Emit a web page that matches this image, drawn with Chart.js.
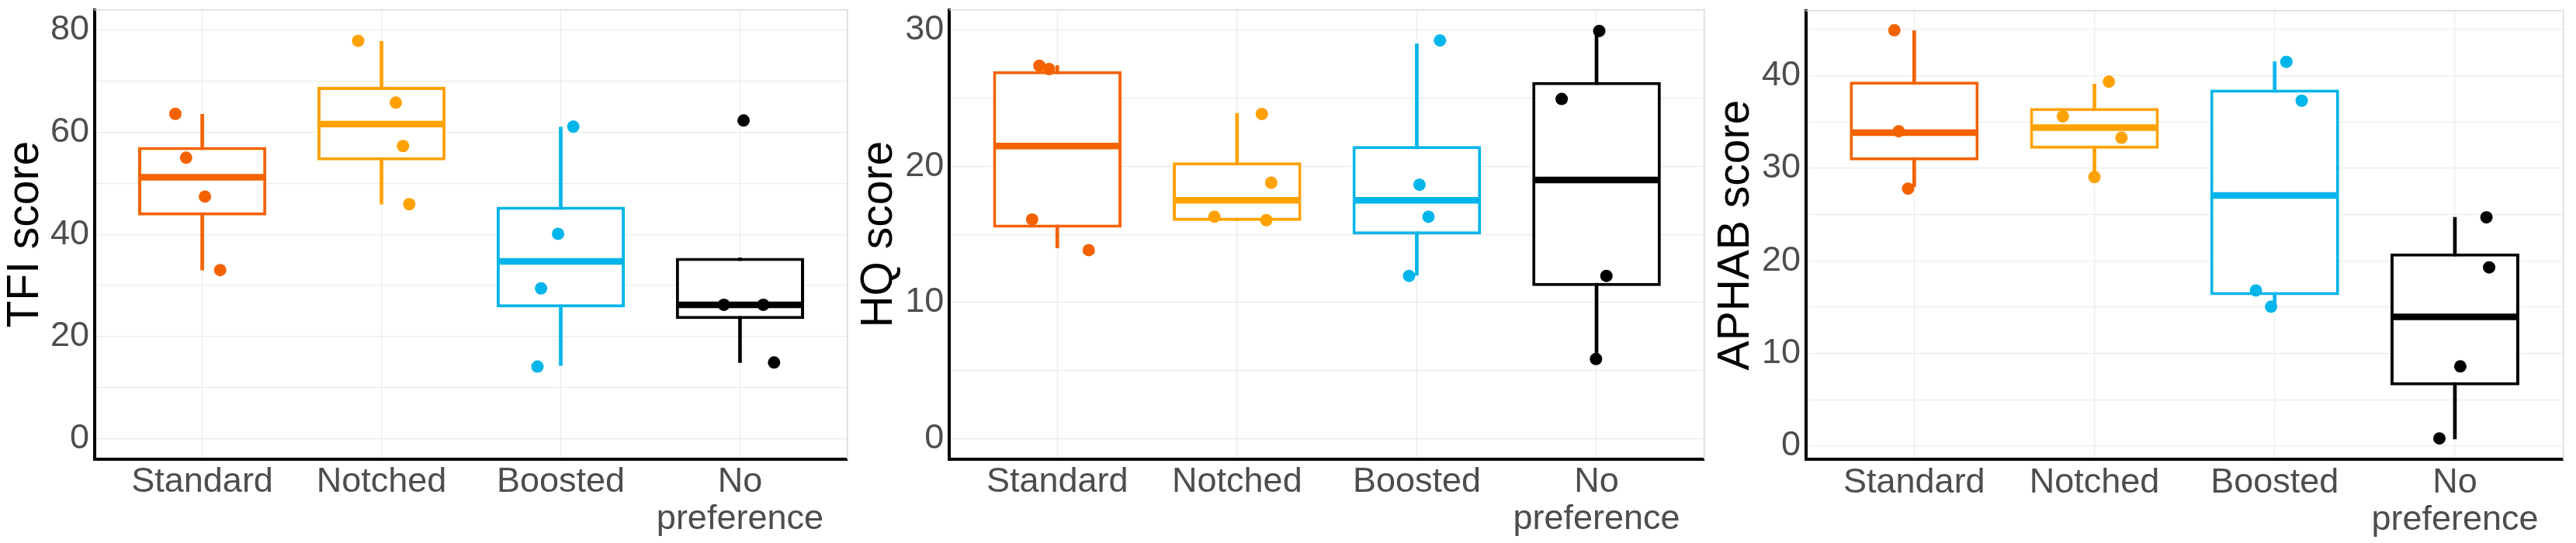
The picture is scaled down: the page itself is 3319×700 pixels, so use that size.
<!DOCTYPE html>
<html>
<head>
<meta charset="utf-8">
<script src="https://cdn.jsdelivr.net/npm/chart.js@4.4.1/dist/chart.umd.min.js"></script>
<style>
html, body { margin: 0; padding: 0; background: #fff; }
body { width: 3319px; height: 700px; position: relative; overflow: hidden; }
.panel { position: absolute; top: 0; height: 700px; }
</style>
</head>
<body>
<div class="panel" style="left:0;width:1100px"><canvas id="tfi"></canvas></div>
<div class="panel" style="left:1100px;width:1104px"><canvas id="hq"></canvas></div>
<div class="panel" style="left:2204px;width:1115px"><canvas id="aphab"></canvas></div>
<script>
// categories and colours
var categories = ['Standard', 'Notched', 'Boosted', 'No preference'];
var categoryLabels = ['Standard', 'Notched', 'Boosted', ['No', 'preference']];
var colors = ['#F46200', '#FFA100', '#00B5EA', '#000000'];

// TFI score
var tfiLow    = [33.0, 45.9, 14.3, 14.9];
var tfiQ1     = [43.7, 54.5, 25.7, 23.4];
var tfiMedian = [51.2, 61.6, 34.7, 26.2];
var tfiQ3     = [57.1, 68.9, 45.4, 35.4];
var tfiHigh   = [63.5, 77.8, 61.0, 35.4];
var tfiPoints = [[63.6, 55.0, 47.4, 33.0], [77.9, 65.8, 57.3, 45.9], [61.1, 40.1, 29.4, 14.1], [62.3, 26.2, 26.2, 14.9]];
var tfiJitter = [[-0.15, -0.09, 0.015, 0.10], [-0.13, 0.08, 0.12, 0.155], [0.07, -0.015, -0.11, -0.13], [0.02, -0.09, 0.13, 0.19]];
var tfiMajor = [0, 20, 40, 60, 80];
var tfiMinor = [10, 30, 50, 70];

// HQ score
var hqLow    = [14.0, 16.0, 12.0, 5.8];
var hqQ1     = [15.5, 16.0, 15.0, 11.2];
var hqMedian = [21.5, 17.5, 17.5, 19.0];
var hqQ3     = [27.0, 20.3, 21.5, 26.2];
var hqHigh   = [27.4, 23.9, 29.0, 29.9];
var hqPoints = [[27.4, 27.15, 16.1, 13.85], [23.85, 18.8, 16.3, 16.05], [29.25, 18.65, 16.3, 11.95], [29.95, 24.95, 11.95, 5.85]];
var hqJitter = [[-0.10, -0.046, -0.14, 0.175], [0.138, 0.19, -0.126, 0.163], [0.129, 0.015, 0.065, -0.043], [0.015, -0.194, 0.055, -0.003]];
var hqMajor = [0, 10, 20, 30];
var hqMinor = [5, 15, 25];

// APHAB score
var aphabLow    = [28.0, 29.1, 15.1, 0.75];
var aphabQ1     = [30.85, 32.1, 16.3, 6.55];
var aphabMedian = [33.85, 34.4, 27.05, 13.95];
var aphabQ3     = [39.35, 36.5, 38.5, 20.8];
var aphabHigh   = [44.85, 39.1, 41.5, 24.7];
var aphabPoints = [[44.9, 34.0, 27.8], [39.35, 35.6, 33.3, 29.05], [41.5, 37.3, 16.8, 15.05], [24.7, 19.3, 8.6, 0.82]];
var aphabJitter = [[-0.11, -0.086, -0.034], [0.08, -0.175, 0.15, 0.0], [0.065, 0.15, -0.104, -0.02], [0.175, 0.19, 0.03, -0.086]];
var aphabMajor = [0, 10, 20, 30, 40];
var aphabMinor = [5, 15, 25, 35, 45];

Chart.defaults.font.family = "'Liberation Sans', Arial, sans-serif";
Chart.defaults.animation = false;

var BOX_WIDTH = 0.715;

function rangeData(lo, hi) {
    return lo.map(function (v, i) { return {x: i + 1, y: [v, hi[i]]}; });
}

function makePanel(id, cfg) {
    var pts = [], ptColors = [];
    cfg.points.forEach(function (vals, i) {
        vals.forEach(function (v, j) {
            pts.push({x: i + 1 + cfg.jitter[i][j], y: v});
            ptColors.push(colors[i]);
        });
    });
    var medians = cfg.median.map(function (v, i) { return {x: i + 1, y: v}; });
    var yTicks = cfg.major.concat(cfg.minor).sort(function (a, b) { return a - b; });

    return new Chart(document.getElementById(id).getContext('2d'), {
        type: 'bar',
        data: {
            datasets: [
                {   // whiskers
                    type: 'bar', data: rangeData(cfg.low, cfg.high),
                    backgroundColor: colors, borderWidth: 0,
                    grouped: false, barThickness: 4, order: 3
                },
                {   // boxes
                    type: 'bar', data: rangeData(cfg.q1, cfg.q3),
                    backgroundColor: '#ffffff', borderColor: colors, borderWidth: 4,
                    borderSkipped: false, grouped: false,
                    categoryPercentage: 1, barPercentage: BOX_WIDTH, order: 2
                },
                {   // medians
                    type: 'scatter', data: medians, pointStyle: 'line',
                    pointBorderColor: colors, pointBackgroundColor: colors, pointBorderWidth: 8.5,
                    pointRadius: function (c) {
                        var s = c.chart.scales.x;
                        return (s.getPixelForValue(2) - s.getPixelForValue(1)) * BOX_WIDTH / 2 - 2;
                    },
                    order: 1
                },
                {   // jittered points
                    type: 'scatter', data: pts,
                    pointBackgroundColor: ptColors, pointBorderWidth: 0, pointRadius: 8, order: 0
                }
            ]
        },
        options: {
            responsive: true,
            maintainAspectRatio: false,
            events: [],
            layout: { padding: { top: cfg.top, right: cfg.padRight, left: 0, bottom: 0 } },
            plugins: { legend: { display: false }, tooltip: { enabled: false } },
            scales: {
                x: {
                    type: 'linear', min: 0.4, max: 4.6, offset: false,
                    afterBuildTicks: function (s) { s.ticks = categories.map(function (c, i) { return {value: i + 1}; }); },
                    afterFit: function (s) { s.height = 700 - cfg.bottom; s.paddingLeft = 0; s.paddingRight = 0; },
                    grid: { color: '#EBEBEB', lineWidth: 1.2, drawTicks: false, offset: false },
                    border: { color: '#000000', width: 4 },
                    ticks: {
                        autoSkip: false, maxRotation: 0, minRotation: 0, padding: 6,
                        color: '#4D4D4D', font: { size: 45, lineHeight: 1.07 },
                        callback: function (v) { return categoryLabels[v - 1]; }
                    }
                },
                y: {
                    type: 'linear', min: cfg.min, max: cfg.max,
                    afterBuildTicks: function (s) { s.ticks = yTicks.map(function (v) { return {value: v}; }); },
                    afterFit: function (s) { s.width = cfg.yWidth; s.paddingTop = 0; s.paddingBottom = 0; },
                    grid: { color: '#EBEBEB', lineWidth: 1.2, drawTicks: false },
                    border: { color: '#000000', width: 4 },
                    ticks: {
                        padding: 7, color: '#4D4D4D', font: { size: 45 },
                        callback: function (v) { return cfg.major.indexOf(v) >= 0 ? String(v) : ''; }
                    },
                    title: {
                        display: true, text: cfg.title, color: '#000000',
                        font: { size: 57, lineHeight: 1 }, padding: { top: 5, bottom: 0 }
                    }
                },
                x2: {
                    type: 'linear', position: 'top', offset: false,
                    grid: { display: false, drawTicks: false }, ticks: { display: false },
                    border: { color: '#D9D9D9', width: 1.5 },
                    afterFit: function (s) { s.height = 0; s.paddingLeft = 0; s.paddingRight = 0; }
                },
                y2: {
                    type: 'linear', position: 'right',
                    grid: { display: false, drawTicks: false }, ticks: { display: false },
                    border: { color: '#D9D9D9', width: 1.5 },
                    afterFit: function (s) { s.width = 0; s.paddingTop = 0; s.paddingBottom = 0; }
                }
            }
        }
    });
}

makePanel('tfi', {
    title: 'TFI score', low: tfiLow, q1: tfiQ1, median: tfiMedian, q3: tfiQ3, high: tfiHigh,
    points: tfiPoints, jitter: tfiJitter, major: tfiMajor, minor: tfiMinor,
    min: -4, max: 84, yWidth: 122, padRight: 2.3, top: 12.5, bottom: 591.7
});
makePanel('hq', {
    title: 'HQ score', low: hqLow, q1: hqQ1, median: hqMedian, q3: hqQ3, high: hqHigh,
    points: hqPoints, jitter: hqJitter, major: hqMajor, minor: hqMinor,
    min: -1.5, max: 31.5, yWidth: 123.3, padRight: 5, top: 12.7, bottom: 591.7
});
makePanel('aphab', {
    title: 'APHAB score', low: aphabLow, q1: aphabQ1, median: aphabMedian, q3: aphabQ3, high: aphabHigh,
    points: aphabPoints, jitter: aphabJitter, major: aphabMajor, minor: aphabMinor,
    min: -1.45, max: 47.0, yWidth: 123, padRight: 16.7, top: 14, bottom: 592.3
});
</script>
</body>
</html>
